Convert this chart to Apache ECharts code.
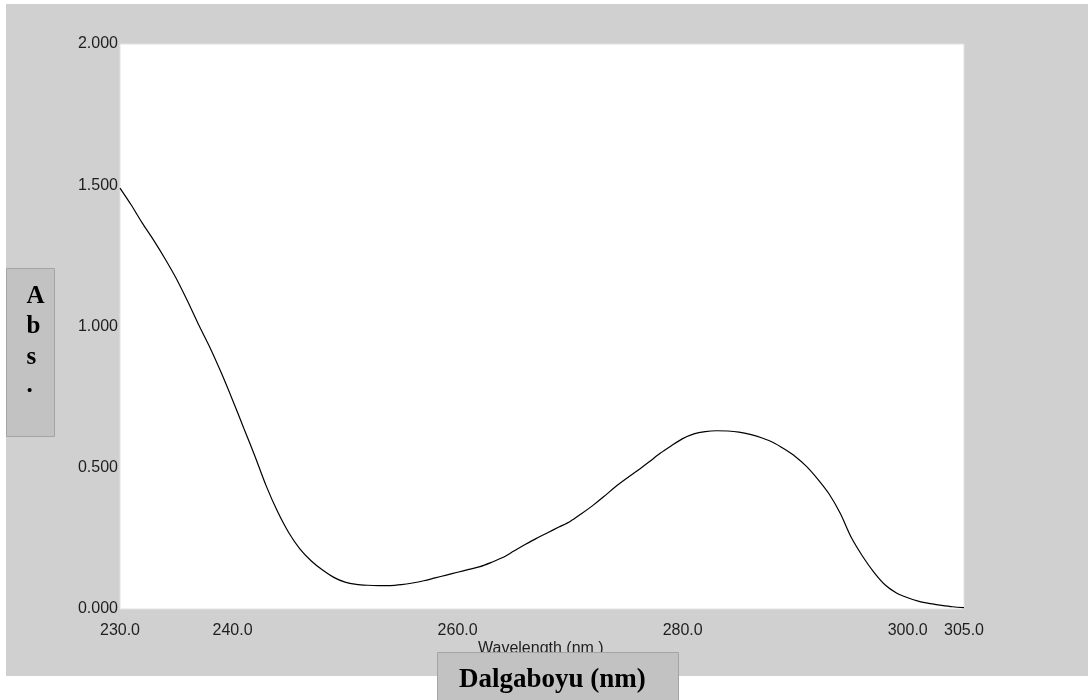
<!DOCTYPE html>
<html>
<head>
<meta charset="utf-8">
<script src="https://cdn.jsdelivr.net/npm/echarts@6/dist/echarts.min.js"></script>
<style>
  html, body { margin: 0; padding: 0; background: #ffffff; }
  #chart { width: 1088px; height: 700px; }
</style>
</head>
<body>
<div id="chart"></div>
<script>
// Data (1 nm steps)
const wavelength = [230, 231, 232, 233, 234, 235, 236, 237, 238, 239, 240, 241, 242, 243, 244, 245, 246, 247, 248, 249,
  250, 251, 252, 253, 254, 255, 256, 257, 258, 259, 260, 261, 262, 263, 264, 265, 266, 267, 268, 269,
  270, 271, 272, 273, 274, 275, 276, 277, 278, 279, 280, 281, 282, 283, 284, 285, 286, 287, 288, 289,
  290, 291, 292, 293, 294, 295, 296, 297, 298, 299, 300, 301, 302, 303, 304, 305];
const absorbance = [1.49, 1.43, 1.365, 1.305, 1.24, 1.17, 1.09, 1.005, 0.925, 0.836, 0.74, 0.64, 0.54, 0.435, 0.345, 0.27, 0.212, 0.17, 0.138, 0.112,
  0.095, 0.087, 0.084, 0.083, 0.083, 0.086, 0.092, 0.1, 0.11, 0.12, 0.13, 0.14, 0.15, 0.165, 0.182, 0.205, 0.228, 0.25, 0.27, 0.29,
  0.31, 0.337, 0.366, 0.398, 0.432, 0.462, 0.49, 0.52, 0.551, 0.578, 0.603, 0.62, 0.628, 0.631, 0.63, 0.626, 0.618, 0.606, 0.59, 0.567,
  0.54, 0.505, 0.46, 0.408, 0.339, 0.252, 0.186, 0.13, 0.085, 0.057, 0.04, 0.027, 0.019, 0.013, 0.008, 0.005];
const xTickLabels = [230, 240, 260, 280, 300, 305];
const yTickLabels = [0, 0.5, 1.0, 1.5, 2.0];
const xAxisTitle = 'Wavelength (nm )';
const xBoxTitle = 'Dalgaboyu (nm)';
const yBoxLetters = ['A', 'b', 's', '.'];

const chart = echarts.init(document.getElementById('chart'), null, { renderer: 'canvas' });

const seriesData = wavelength.map((w, i) => [w, absorbance[i]]);

const labelFont = { fontFamily: 'Liberation Sans', fontSize: 16, color: '#1e1e1e' };

const graphics = [
  // white outer margins
  { type: 'rect', shape: { x: 0, y: 0, width: 1088, height: 4 }, style: { fill: '#ffffff' }, silent: true },
  { type: 'rect', shape: { x: 0, y: 0, width: 6, height: 700 }, style: { fill: '#ffffff' }, silent: true },
  { type: 'rect', shape: { x: 0, y: 676, width: 1088, height: 24 }, style: { fill: '#ffffff' }, silent: true },
  // original axis title (partly hidden)
  { type: 'text', x: 478, y: 649, z: 5,
    style: { text: xAxisTitle, font: '16px "Liberation Sans"', fill: '#1e1e1e', textAlign: 'left', textVerticalAlign: 'middle' } },
  // Dalgaboyu box
  { type: 'rect', z: 10, shape: { x: 437.5, y: 652.5, width: 241, height: 60 },
    style: { fill: '#c2c2c2', stroke: '#a4a4a4', lineWidth: 1 } },
  { type: 'text', x: 459, y: 680, z: 11,
    style: { text: xBoxTitle, font: 'bold 27px "Liberation Serif"', fill: '#000000', textAlign: 'left', textVerticalAlign: 'middle' } },
  // Abs box
  { type: 'rect', z: 10, shape: { x: 6.5, y: 268.5, width: 48, height: 168 },
    style: { fill: '#c2c2c2', stroke: '#a4a4a4', lineWidth: 1 } }
];
const letterY = [297, 327, 358, 386];
yBoxLetters.forEach((ch, i) => {
  graphics.push({ type: 'text', x: 26.5, y: letterY[i], z: 11,
    style: { text: ch, font: 'bold 25px "Liberation Serif"', fill: '#000000', textAlign: 'left', textVerticalAlign: 'middle' } });
});

chart.setOption({
  animation: false,
  backgroundColor: '#d0d0d0',
  grid: {
    left: 120, top: 44, width: 844, height: 565,
    show: true, backgroundColor: '#ffffff', borderColor: '#e2e2e2', borderWidth: 1,
    containLabel: false
  },
  xAxis: {
    type: 'value', min: 230, max: 305, interval: 5,
    axisLine: { show: false }, axisTick: { show: false }, splitLine: { show: false },
    axisLabel: Object.assign({
      margin: 14, showMinLabel: true, showMaxLabel: true,
      formatter: v => (xTickLabels.indexOf(Math.round(v)) >= 0 ? v.toFixed(1) : '')
    }, labelFont)
  },
  yAxis: {
    type: 'value', min: 0, max: 2, interval: 0.5,
    axisLine: { show: false }, axisTick: { show: false }, splitLine: { show: false },
    axisLabel: Object.assign({
      margin: 2, showMinLabel: true, showMaxLabel: true,
      formatter: v => (yTickLabels.some(t => Math.abs(t - v) < 1e-9) ? v.toFixed(3) : '')
    }, labelFont)
  },
  series: [{
    type: 'line',
    data: seriesData,
    smooth: 0.3,
    symbol: 'none',
    lineStyle: { color: '#000000', width: 1.2 },
    silent: true
  }],
  graphic: graphics
});
</script>
</body>
</html>
